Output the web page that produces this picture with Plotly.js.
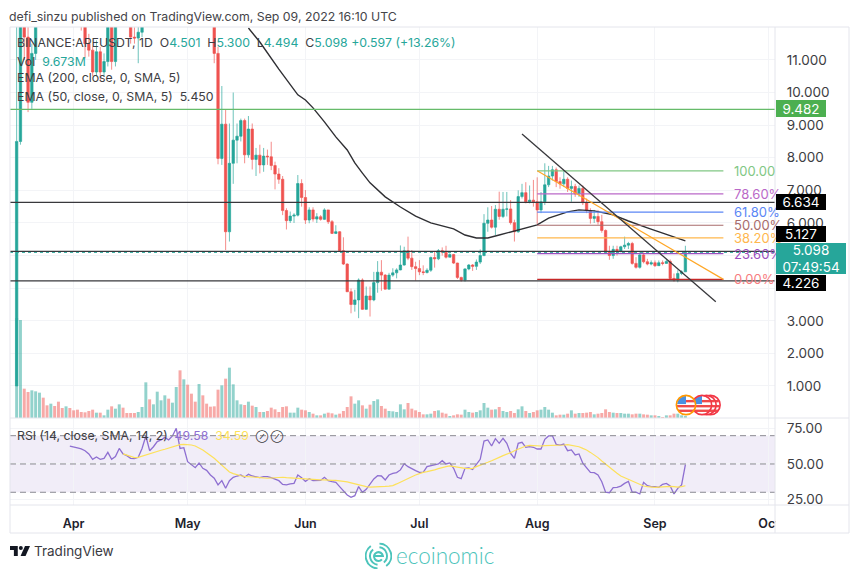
<!DOCTYPE html>
<html><head><meta charset="utf-8">
<script src="https://cdn.plot.ly/plotly-3.0.1.min.js"></script>
<style>html,body{margin:0;padding:0;background:#fff}#chart{width:860px;height:569px}</style>
</head><body><div id="chart"></div>
<script>
// daily closes from 2022-03-17 to 2022-09-09 (values above 12 lie outside the visible pane)
const firstOpen = 1.0;
const closes = [8.5,13.5,11.7,9.7,11.2,12.6,14.5,13.8,13.2,14.2,
13.6,13.2,12.9,13.4,13.1,12.9,12.6,12.2,11.5,11.3,
10.63,11.25,10.63,10.95,12.1,10.95,12.6,13.4,12.8,12.3,
11.7,11.67,11.85,12.4,15,14.3,15.2,16.5,17.2,18.4,
17.6,19.2,22,20,21,19.5,18,17,18,16.5,
15,13.4,11.2,7.98,9.03,5.73,7.83,8.54,8.66,9.14,
8.09,8.88,7.95,8.08,7.78,8.05,8.03,7.76,7.5,7.34,
6.38,6.07,6.21,6.24,7.21,6.78,6.09,6.4,6.12,6.19,
6.11,6.4,6.04,5.68,5.73,5.15,4.74,3.89,3.5,3.64,
4.25,3.35,3.76,3.64,4.17,4.49,4.4,3.97,4.4,4.47,
4.56,4.71,5.15,4.92,4.66,4.6,4.5,4.48,4.55,4.94,
4.9,5.15,5.1,4.95,5.03,4.77,4.33,4.25,4.59,4.71,
4.67,4.8,5.0,5.99,6.09,5.87,6.42,6.2,6.42,6.43,
6.01,5.73,6.81,6.93,6.65,6.7,6.65,6.4,6.65,7.17,
7.44,7.63,7.27,7.2,7.34,7.06,7.12,6.89,7.06,6.62,
6.38,6.14,6.2,6.04,5.77,5.12,5.0,5.19,5.12,5.27,
5.32,5.37,4.76,4.64,5.02,4.81,4.74,4.78,4.69,4.78,
4.76,4.82,4.3,4.25,4.45,4.501,5.098];
const highs = [12.5,14.5,14,12.2,11.5,13,15,15,14.2,14.8,
14.4,13.9,13.5,13.9,13.8,13.4,13,12.8,12.3,11.8,
11.4,11.6,11.4,11.2,12.4,12.5,12.9,13.7,13.6,13,
12.5,12,12.2,12.6,15.6,15.2,15.8,17,18,19,
18.8,19.8,26,22.5,22,21.2,19.8,18.4,18.6,18.2,
16.8,15.2,13.6,11.4,10.2,9.47,9.05,10,9.05,9.2,
9.2,9.28,9.05,8.3,8.4,8.3,8.25,8.49,7.88,7.68,
7.44,6.45,6.35,6.3,7.47,7.34,7.01,6.48,6.48,6.3,
6.24,6.45,6.4,6.09,5.93,5.75,5.56,4.76,3.99,3.95,
4.3,4.3,4.05,4.05,4.5,4.83,4.86,4.43,4.47,4.61,
4.61,5.31,5.27,5.58,5.17,4.81,4.86,4.7,4.61,4.97,
5.12,5.2,5.25,5.3,5.07,5.05,4.78,4.35,4.61,4.74,
4.74,4.88,5.19,6.27,6.48,6.52,6.55,6.96,6.95,6.95,
6.7,6.1,7,7.2,7.25,7.15,7.32,7.4,6.95,7.83,
7.75,7.75,7.7,7.4,7.62,7.4,7.3,7.2,7.15,7.15,
6.75,6.45,6.4,6.4,6.25,5.8,5.3,5.3,5.3,5.3,
5.58,5.42,5.42,4.95,5.1,5.1,4.9,4.85,4.85,4.85,
4.85,4.88,4.88,4.45,4.55,4.55,5.3];
const lows = [1,8.4,11,9.4,9.5,11,12.4,13.5,12.9,13,
13.3,13,12.6,12.7,12.9,12.6,12.3,11.9,11.05,11.1,
10.5,10.5,10.35,10.5,10.8,10.7,10.8,12.4,12.4,12.1,
11.5,11.5,10.9,11.7,12.3,14,14.1,15,16.2,17,
17.2,17.4,19,19.4,19.8,18.9,17.5,16.5,16.8,16,
14.6,13,10.9,7.8,7.78,5.17,5.43,7.2,7.83,8.5,
7.83,8,7.64,7.44,7.52,7.57,7.78,7.62,7.03,7.2,
6.24,5.8,6,6,6.2,6.5,5.97,5.99,6.04,6,
6.07,6.09,5.97,5.66,5.66,5.14,4.71,3.89,3.23,3.28,
3.08,3.33,3.38,3.13,3.6,3.86,3.92,3.96,3.96,4.35,
4.3,4.55,4.69,4.86,4.56,4.23,4.4,4.4,4.45,4.5,
4.63,4.86,5,4.91,4.95,4.74,4.28,4.2,4.2,4.55,
4.53,4.56,4.74,4.98,5.73,5.83,5.63,6.1,6.15,6.2,
5.95,5.43,5.7,6.75,6.6,6.6,6.5,5.97,6.3,6.55,
7.1,7.3,7.1,7.05,7.1,6.95,6.65,6.8,6.8,6.55,
6.3,5.98,6,5.95,5.7,5.05,4.87,4.9,5,5.1,
5.2,5.2,4.72,4.6,4.6,4.76,4.7,4.7,4.65,4.68,
4.7,4.75,4.28,4.2,4.18,4.4,4.494];
const volume = [300,294,88,78,83,80,76,61,38,43,36,49,
30,35,30,23,25,18,17,21,25,16,
16,8,25,35,28,41,31,15,15,15,
18,33,107,56,41,79,53,68,58,46,
93,143,116,100,73,49,102,68,43,34,
35,85,98,118,151,101,53,41,39,49,
37,33,18,18,21,31,26,18,33,35,
16,16,31,25,23,18,13,8,8,13,
16,14,10,13,21,33,65,43,53,38,
28,40,51,56,36,28,21,20,18,41,
26,45,28,23,18,11,11,
13,21,23,16,13,6,8,11,10,25,
18,16,18,23,45,31,25,26,33,21,
18,21,15,26,35,21,15,18,23,25,
33,25,16,8,10,10,13,23,13,15,
15,16,18,11,13,15,26,18,16,15,
15,13,13,11,13,13,11,10,8,8,
6,3,8,8,13,13,8,6];
// EMA 50: day offset from the first candle, and value
const emaDays = [61,64,69,74,76,78,81,84,87,89,91,93,97,101,105,109,115,118,121,124,127,130,137,140,145,148,152,157,161,166,170,175,176];
const emaValues = [11.98,11.55,10.72,9.93,9.77,9.53,9.1,8.64,8.24,7.84,7.53,7.23,6.8,6.49,6.21,6.0,5.82,5.63,5.54,5.54,5.63,5.72,5.94,6.15,6.34,6.4,6.37,6.25,6.06,5.85,5.69,5.51,5.45];
// RSI starts at day 14, its SMA at day 28
const rsiValues = [62.7,62.2,61.3,60.6,59.4,57.1,53.3,54.9,53.3,54,
58.2,53.3,55.2,61,57.1,55.9,54,53.8,54.7,61,
69.8,59.4,62.2,65.8,67,68.8,67,69.8,75.2,61,
61.5,51.6,49.3,47.4,50.7,46.9,45.5,42.2,39.9,35.2,
38.2,32.8,38.2,40.6,41.5,42.2,40.6,42.7,41.5,41,
40.3,41,41,40.3,39.4,38.2,35.6,35.2,35.9,36.3,
42.2,40.3,37.7,39.6,38.2,38.4,38.4,40.6,38.2,37.5,
37,34,31.1,28.1,26.4,27.6,34,30,32.1,35.9,
39.4,41.7,41.5,38.7,42.2,43.4,43.9,45.8,50.2,48.1,
46.5,45.3,44.1,44.1,48.1,
48.6,49,50,52.3,50,50.7,46.9,40.6,39.6,46.9,
47.2,46.2,50,53.3,66.2,67,62.7,67.9,64.6,68.1,
64.6,57.5,54,64.6,65.3,61.8,62.2,61.8,60.6,60.6,
67.4,69.8,70,63.9,63.4,64.1,59.4,59.9,56.4,57.1,
50.5,46.9,44.1,43.9,42.2,37.5,30,29.7,33.3,33.5,
34.4,36.3,37.7,30,30,28.8,37,34.7,34,34,
33.5,35.6,36.3,34.4,28.8,32.8,35.2,49.58];
const rsiSma = [57.1,56.1,55.2,54.5,54.7,55.6,56.4,57.1,57.8,58.7,
59.7,60.4,61.3,62.2,63,63.7,63.9,63.9,63.4,62.7,
61.5,59.9,58,56.1,54,51.6,49.3,46.7,44.3,43.2,
42.2,41.7,41.3,41,40.6,40.3,40.1,39.9,39.9,40.1,
40.3,40.6,40.6,40.3,40.1,39.9,39.6,39.4,39.2,38.9,
38.7,38.7,38.7,38.7,38.4,38.4,38.4,38.2,37.7,37.3,
36.6,35.9,34.9,34.4,34,33.7,33.7,33.7,34,34.2,
34.4,34.7,35.9,37.3,38.7,39.9,41,42.2,43.4,44.1,44.6,
45,45.8,46.7,47.6,48.1,48.6,48.1,47.4,46.9,46.9,
46.7,46.9,48.1,49.3,50.5,51.2,52.3,53.3,54.7,55.9,
56.8,58,59.4,60.6,61.8,62.7,63.2,63,62.7,62.7,
63,63,63,63.2,63.4,63.4,63.7,63.2,62.7,62.2,
61,59.9,58.2,56.4,54.5,52.1,49.8,47.6,45.5,43.4,
41.5,40.3,39.2,37.5,36.3,35.2,34.4,34,33.7,33.5,
33.7,34,34.2,34.2,34,33.7,34,34.59];
const priceTicks = [1,2,3,4,5,6,7,8,9,10,11];
const priceTickLabels = ['1.000','2.000','3.000','','','6.000','7.000','8.000','9.000','10.000','11.000'];
const rsiTicks = [25,50,75];
const rsiBand = [30,50,70];
const monthDates = ['2022-04-01','2022-05-01','2022-06-01','2022-07-01','2022-08-01','2022-09-01','2022-10-01'];
const monthLabels = ['Apr','May','Jun','Jul','Aug','Sep','Oct'];
const blackLevels = [6.634,5.127,4.226];
const greenLevel = 9.482;
const lastPrice = 5.098;
const fibValues = [7.6,6.89,6.33,5.93,5.54,5.06,4.27];
const fibLabels = ['100.00','78.60%','61.80%','50.00%','38.20%','23.60%','0.00%'];
const fibStart = 137, fibEnd = 186;
const blackTrendDays = [133,184], blackTrendValues = [8.73,3.58];
const orangeTrendDays = [137,186], orangeTrendValues = [7.6,4.27];

// styles
const fibColors = ['#81c784','#ba68c8','#5b86f5','#a86b6b','#ffb74d','#9c4fc0','#c62828'];
const fibTextColors = ['#81c784','#ba68c8','#5b86f5','#a86b6b','#ffb74d','#9c4fc0','#f77c80'];
const UP='#26a69a', DOWN='#ef5350', TXT='#3d3d42';
const FONT='Inter, "Noto Sans", sans-serif';

const startMs = Date.UTC(2022,2,17);
const dayStr = d => new Date(startMs + d*86400000).toISOString().slice(0,10);
const dates = closes.map((_,i)=>dayStr(i));
const opens = closes.map((_,i)=> i===0 ? firstOpen : closes[i-1]);
const volColors = closes.map((c,i)=> c>=opens[i] ? 'rgba(38,166,154,0.5)' : 'rgba(239,83,80,0.5)');
const W=860,H=569,L=10,R=775,T=27,B=505;
const px = x => (x-L)/(R-L);
const py = y => (B-y)/(B-T);

const traces = [
 {type:'bar',x:dates,y:volume,marker:{color:volColors,line:{width:0}},xaxis:'x',yaxis:'y',hoverinfo:'skip'},
 {type:'candlestick',x:dates,open:opens,high:highs,low:lows,close:closes,xaxis:'x',yaxis:'y2',whiskerwidth:0,
  increasing:{line:{color:'rgba(38,166,154,0.75)',width:0.9},fillcolor:UP},decreasing:{line:{color:'rgba(239,83,80,0.75)',width:0.9},fillcolor:DOWN}},
 {type:'scatter',mode:'lines',x:emaDays.map(dayStr),y:emaValues,xaxis:'x',yaxis:'y2',line:{color:'#2f2f33',width:1.4}},
 {type:'scatter',mode:'lines',x:rsiValues.map((_,i)=>dayStr(i+14)),y:rsiValues,xaxis:'x2',yaxis:'y3',line:{color:'#8e6fd1',width:1.3}},
 {type:'scatter',mode:'lines',x:rsiSma.map((_,i)=>dayStr(i+28)),y:rsiSma,xaxis:'x2',yaxis:'y3',line:{color:'#fde15a',width:1.2}}
];

const hline=(y,color,width,dash)=>({type:'line',xref:'paper',yref:'y2',x0:0,x1:1,y0:y,y1:y,layer:'above',line:{color,width,dash:dash||'solid'}});
const frame='#e4e5ec';
const pLine=(x0,y0,x1,y1)=>({type:'line',xref:'paper',yref:'paper',x0:px(x0),x1:px(x1),y0:py(y0),y1:py(y1),layer:'above',line:{color:frame,width:1}});
const shapes=[
 {type:'rect',xref:'paper',yref:'paper',x0:px(775.5),x1:px(849),y0:py(506),y1:py(532),fillcolor:'#fff',line:{width:0},layer:'above'},
 {type:'rect',xref:'paper',yref:'y3',x0:0,x1:1,y0:rsiBand[0],y1:rsiBand[2],fillcolor:'rgba(126,87,194,0.11)',line:{width:0},layer:'below'},
 ...rsiBand.map(v=>({type:'line',xref:'paper',yref:'y3',x0:0,x1:1,y0:v,y1:v,layer:'above',line:{color:'#8a8a92',width:1,dash:'6px,4px'}})),
 hline(greenLevel,'#66bb6a',1.2),
 hline(lastPrice,UP,1,'dot'),
 ...blackLevels.map(v=>hline(v,'#38383c',1.3)),
 ...fibValues.map((v,i)=>({type:'line',xref:'x',yref:'y2',x0:dayStr(fibStart),x1:dayStr(fibEnd),y0:v,y1:v,layer:'above',line:{color:fibColors[i],width:1.2}})),
 {type:'line',xref:'x',yref:'y2',x0:dayStr(orangeTrendDays[0]),x1:dayStr(orangeTrendDays[1]),y0:orangeTrendValues[0],y1:orangeTrendValues[1],layer:'above',line:{color:'#ffa726',width:1.2}},
 {type:'line',xref:'x',yref:'y2',x0:dayStr(blackTrendDays[0]),x1:dayStr(blackTrendDays[1]),y0:blackTrendValues[0],y1:blackTrendValues[1],layer:'above',line:{color:'#38383c',width:1.3}},
 pLine(10,27,849,27),pLine(10,27,10,533),pLine(849,27,849,533),pLine(10,533,849,533),
 pLine(775,27,775,533),pLine(10,418,849,418),pLine(10,505,849,505)
];

const note=(x,y,text,size,color,extra)=>Object.assign({xref:'paper',yref:'paper',x:px(x),y:py(y),text,showarrow:false,xanchor:'left',yanchor:'middle',align:'left',borderpad:0,borderwidth:0,font:{family:FONT,size,color}},extra||{});
const nb='\u00a0';
const teal=s=>`<span style="color:${UP}">${s}</span>`;
const boxLabel=(y,text,bg,h,w)=>note(775.5,y,text,13.5,'#fff',{bgcolor:bg,width:w||50,height:h||16,align:'center'});
const annotations=[
 note(9,16,'defi_sinzu published on TradingView.com, Sep 09, 2022 16:10 UTC',12.3,'#444449'),
 note(17,43,`BINANCE:APEUSDT, 1D${nb}${nb}O${teal('4.501')}${nb}${nb}H${teal('5.300')}${nb}${nb}L${teal('4.494')}${nb}${nb}C${teal('5.098')}${nb}${teal('+0.597 (+13.26%)')}`,12.3,TXT),
 note(17,61,`Vol${nb}${nb}${teal('9.673M')}`,12.3,TXT),
 note(17,78,'EMA (200, close, 0, SMA, 5)',12.3,TXT),
 note(17,96,`EMA (50, close, 0, SMA, 5)${nb}${nb}5.450`,12.3,TXT),
 note(17,435,`RSI (14, close, SMA, 14, 2)${nb}${nb}<span style="color:#8e6fd1">49.58</span>${nb}${nb}<span style="color:#fde15a">34.59</span>${nb}${nb}<span style="font-size:9px">⊘${nb}⊘</span>`,12.3,TXT),
 ...fibLabels.map((t,i)=>({xref:'paper',yref:'y2',x:px(732.5),y:fibValues[i],text:t,showarrow:false,xanchor:'left',yanchor:'middle',borderpad:0,font:{family:FONT,size:13,color:fibTextColors[i]}})),
 boxLabel(109,'9.482','#4caf50',17),
 boxLabel(202,'6.634','#000',16),
 boxLabel(234,'5.127','#000',16),
 boxLabel(283,'4.226','#000',16),
 boxLabel(258.5,'5.098<br>07:49:54',UP,31,70),
 note(34,551,'TradingView',13.5,'#3a3a3f'),
 note(396,555,'ecoinomic',22.5,'#4cc4bb',{font:{family:'Lato, sans-serif',size:22.5,color:'#4cc4bb',weight:300}})
];

const svgUrl=s=>'data:image/svg+xml;utf8,'+encodeURIComponent(s);
const flag=(ring)=>`<svg xmlns="http://www.w3.org/2000/svg" viewBox="0 0 24 24" width="48" height="48"><defs><clipPath id="c"><circle cx="12" cy="12" r="10"/></clipPath></defs><circle cx="12" cy="12" r="10" fill="#fff"/><g clip-path="url(#c)"><rect x="0" y="12" width="24" height="2.6" fill="#ef4a4a"/><rect x="0" y="17" width="24" height="2.6" fill="#ef4a4a"/><rect x="12" y="6.5" width="12" height="2.6" fill="#ef4a4a"/><rect x="0" y="0" width="12" height="11" fill="#4a90e2"/></g><circle cx="12" cy="12" r="10.5" fill="none" stroke="${ring}" stroke-width="1.8"/></svg>`;
const img=(src,x,y,w,h)=>({source:svgUrl(src),xref:'paper',yref:'paper',x:px(x),y:py(y),sizex:w/(R-L),sizey:h/(B-T),xanchor:'left',yanchor:'top',sizing:'stretch',layer:'above'});
const tvLogo=`<svg xmlns="http://www.w3.org/2000/svg" viewBox="0 0 36 18" width="72" height="36"><path d="M0 0h14v18H7V7H0z" fill="#131722"/><circle cx="19.5" cy="3.6" r="3.6" fill="#131722"/><path d="M27 0h9l-8 18h-9z" fill="#131722"/></svg>`;
const ecoLogo=`<svg xmlns="http://www.w3.org/2000/svg" viewBox="0 0 28 28" width="84" height="84"><g fill="none" stroke="#4cc4bb" stroke-width="2"><path d="M6 3.6A13 13 0 0 0 13 27"/><path d="M22 24.4A13 13 0 0 0 15 1"/><path d="M8.4 7.2A9 9 0 0 0 13 23"/><path d="M19.6 20.8A9 9 0 0 0 15 5"/><path d="M9.5 14H18.5A4.6 4.6 0 1 0 17.5 17.5" stroke-width="2.2"/></g></svg>`;
const images=[
 img(flag('#f23645'),699.5,394,22,22),
 img(flag('#f23645'),695.5,394,22,22),
 img(flag('#f23645'),691,394,22,22),
 img(flag('#ff9800'),675,394,22,22),
 img(tvLogo,10,546,20,10),
 img(ecoLogo,365,542.5,27,27)
];

const gridC='#f3f4f7';
const layout={
 width:W,height:H,autosize:false,showlegend:false,paper_bgcolor:'#fff',plot_bgcolor:'#fff',
 margin:{l:L,r:W-R,t:T,b:H-B,pad:0},bargap:0.22,boxgap:0.1,hovermode:false,
 font:{family:FONT,color:TXT},
 xaxis:{type:'date',domain:[0,1],anchor:'y',range:['2022-03-15 06:00','2022-10-02 14:00'],rangeslider:{visible:false},
  tickvals:monthDates,showticklabels:false,ticks:'',showgrid:true,gridcolor:gridC,gridwidth:1,zeroline:false,showline:false},
 xaxis2:{type:'date',domain:[0,1],anchor:'y3',matches:'x',tickvals:monthDates,ticktext:monthLabels,ticks:'outside',ticklen:7,tickcolor:'rgba(0,0,0,0)',
  tickfont:{family:FONT,size:12.5,color:'#1e222d',weight:600},showgrid:true,gridcolor:gridC,gridwidth:1,zeroline:false,showline:false,tickangle:0},
 yaxis:{domain:[87/478,1],anchor:'x',range:[0,1173],showgrid:false,showticklabels:false,ticks:'',zeroline:false},
 yaxis2:{domain:[87/478,1],overlaying:'y',anchor:'x',side:'right',range:[0.018,12.01],tickvals:priceTicks,ticktext:priceTickLabels,
  ticks:'outside',ticklen:8,tickcolor:'rgba(0,0,0,0)',tickfont:{family:FONT,size:13.5,color:TXT},showgrid:true,gridcolor:gridC,gridwidth:1,zeroline:false,showline:false},
 yaxis3:{domain:[0,87/478],anchor:'x2',side:'right',range:[21,82.5],tickvals:rsiTicks,tickformat:'.2f',
  ticks:'outside',ticklen:8,tickcolor:'rgba(0,0,0,0)',tickfont:{family:FONT,size:13.5,color:TXT},showgrid:true,gridcolor:gridC,gridwidth:1,zeroline:false,showline:false},
 shapes,annotations,images
};
Plotly.newPlot('chart',traces,layout,{displayModeBar:false,staticPlot:true,responsive:false});
</script>
</body></html>
